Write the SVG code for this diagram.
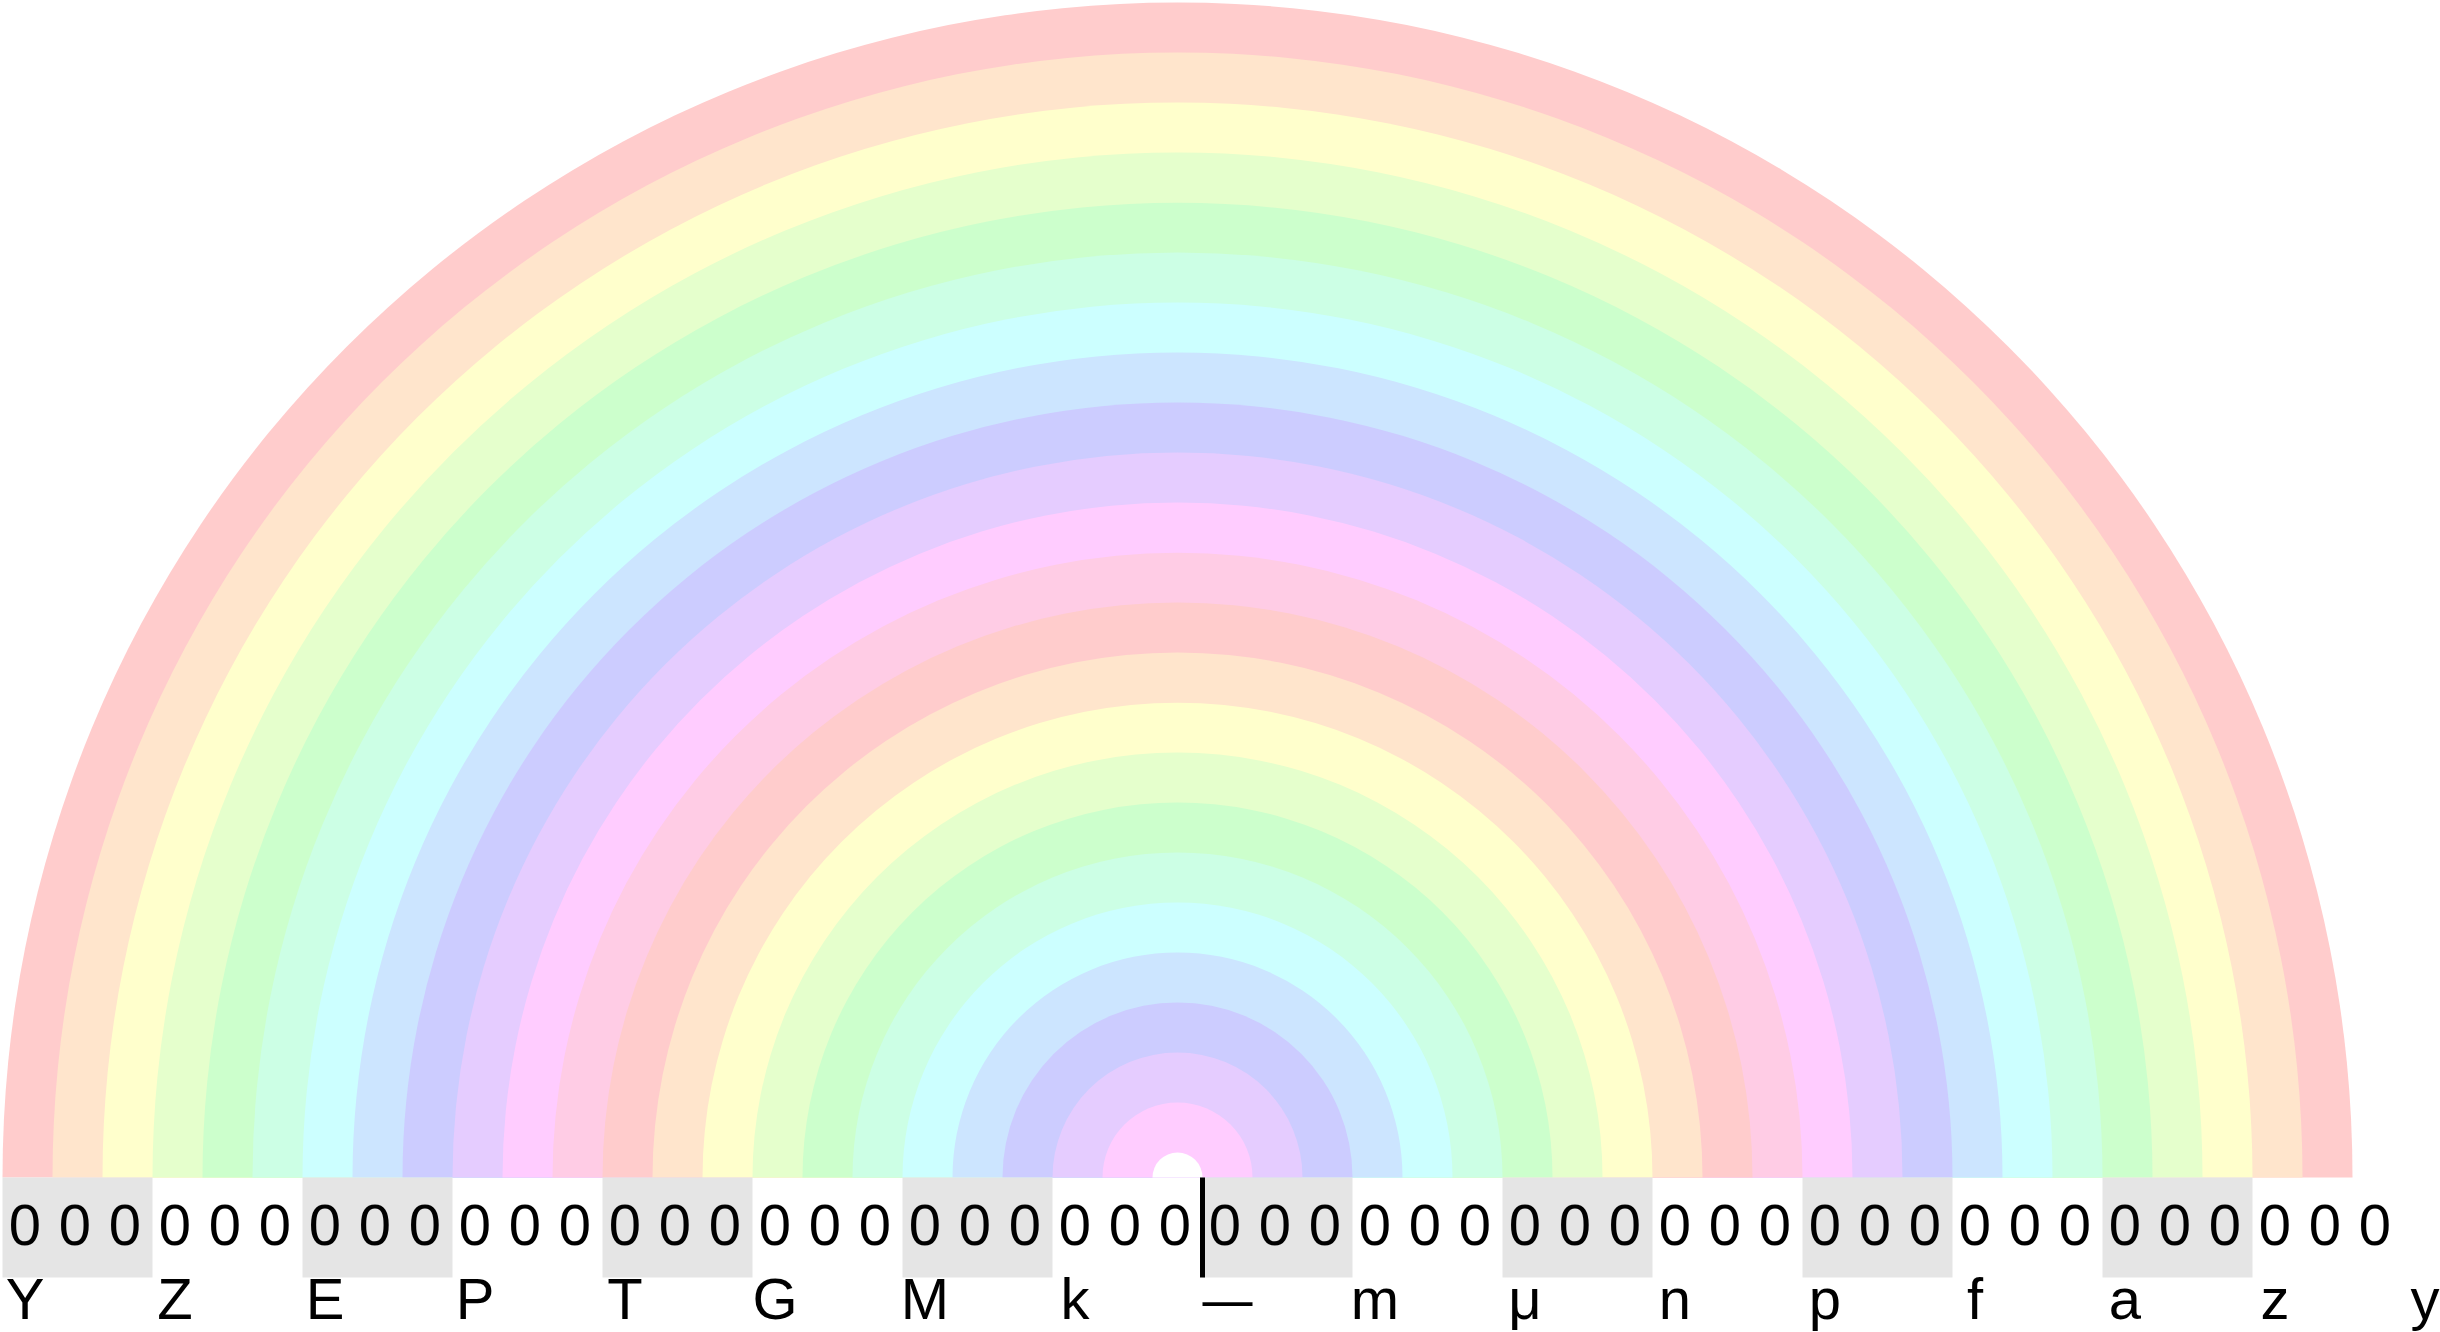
<svg xmlns="http://www.w3.org/2000/svg" width="2440" height="1332" viewBox="0 0 2440 1332">
<style>
.d{font-family:"Liberation Sans",Arial,sans-serif;font-size:58px;fill:#000;text-anchor:middle}
.g{fill:#e5e5e5}
</style>
<rect width="2440" height="1332" fill="#fff"/>
<g id="rainbow">
<path d="M2.5 1177.5A1175 1175 0 0 1 2352.5 1177.5Z" fill="#ffcccc"/>
<path d="M52.5 1177.5A1125 1125 0 0 1 2302.5 1177.5Z" fill="#ffe5cc"/>
<path d="M102.5 1177.5A1075 1075 0 0 1 2252.5 1177.5Z" fill="#ffffcc"/>
<path d="M152.5 1177.5A1025 1025 0 0 1 2202.5 1177.5Z" fill="#e5ffcc"/>
<path d="M202.5 1177.5A975 975 0 0 1 2152.5 1177.5Z" fill="#ccffcc"/>
<path d="M252.5 1177.5A925 925 0 0 1 2102.5 1177.5Z" fill="#ccffe5"/>
<path d="M302.5 1177.5A875 875 0 0 1 2052.5 1177.5Z" fill="#ccffff"/>
<path d="M352.5 1177.5A825 825 0 0 1 2002.5 1177.5Z" fill="#cce5ff"/>
<path d="M402.5 1177.5A775 775 0 0 1 1952.5 1177.5Z" fill="#ccccff"/>
<path d="M452.5 1177.5A725 725 0 0 1 1902.5 1177.5Z" fill="#e5ccff"/>
<path d="M502.5 1177.5A675 675 0 0 1 1852.5 1177.5Z" fill="#ffccff"/>
<path d="M552.5 1177.5A625 625 0 0 1 1802.5 1177.5Z" fill="#ffcce5"/>
<path d="M602.5 1177.5A575 575 0 0 1 1752.5 1177.5Z" fill="#ffcccc"/>
<path d="M652.5 1177.5A525 525 0 0 1 1702.5 1177.5Z" fill="#ffe5cc"/>
<path d="M702.5 1177.5A475 475 0 0 1 1652.5 1177.5Z" fill="#ffffcc"/>
<path d="M752.5 1177.5A425 425 0 0 1 1602.5 1177.5Z" fill="#e5ffcc"/>
<path d="M802.5 1177.5A375 375 0 0 1 1552.5 1177.5Z" fill="#ccffcc"/>
<path d="M852.5 1177.5A325 325 0 0 1 1502.5 1177.5Z" fill="#ccffe5"/>
<path d="M902.5 1177.5A275 275 0 0 1 1452.5 1177.5Z" fill="#ccffff"/>
<path d="M952.5 1177.5A225 225 0 0 1 1402.5 1177.5Z" fill="#cce5ff"/>
<path d="M1002.5 1177.5A175 175 0 0 1 1352.5 1177.5Z" fill="#ccccff"/>
<path d="M1052.5 1177.5A125 125 0 0 1 1302.5 1177.5Z" fill="#e5ccff"/>
<path d="M1102.5 1177.5A75 75 0 0 1 1252.5 1177.5Z" fill="#ffccff"/>
<path d="M1152.5 1177.5A25 25 0 0 1 1202.5 1177.5Z" fill="#ffffff"/>
</g>
<g id="shading">
<rect class="g" x="2.5" y="1177.5" width="150" height="100"/>
<rect class="g" x="302.5" y="1177.5" width="150" height="100"/>
<rect class="g" x="602.5" y="1177.5" width="150" height="100"/>
<rect class="g" x="902.5" y="1177.5" width="150" height="100"/>
<rect class="g" x="1202.5" y="1177.5" width="150" height="100"/>
<rect class="g" x="1502.5" y="1177.5" width="150" height="100"/>
<rect class="g" x="1802.5" y="1177.5" width="150" height="100"/>
<rect class="g" x="2102.5" y="1177.5" width="150" height="100"/>
</g>
<g id="digits" class="d">
<text x="25" y="1244.5">0</text><text x="75" y="1244.5">0</text><text x="125" y="1244.5">0</text>
<text x="175" y="1244.5">0</text><text x="225" y="1244.5">0</text><text x="275" y="1244.5">0</text>
<text x="325" y="1244.5">0</text><text x="375" y="1244.5">0</text><text x="425" y="1244.5">0</text>
<text x="475" y="1244.5">0</text><text x="525" y="1244.5">0</text><text x="575" y="1244.5">0</text>
<text x="625" y="1244.5">0</text><text x="675" y="1244.5">0</text><text x="725" y="1244.5">0</text>
<text x="775" y="1244.5">0</text><text x="825" y="1244.5">0</text><text x="875" y="1244.5">0</text>
<text x="925" y="1244.5">0</text><text x="975" y="1244.5">0</text><text x="1025" y="1244.5">0</text>
<text x="1075" y="1244.5">0</text><text x="1125" y="1244.5">0</text><text x="1175" y="1244.5">0</text>
<text x="1225" y="1244.5">0</text><text x="1275" y="1244.5">0</text><text x="1325" y="1244.5">0</text>
<text x="1375" y="1244.5">0</text><text x="1425" y="1244.5">0</text><text x="1475" y="1244.5">0</text>
<text x="1525" y="1244.5">0</text><text x="1575" y="1244.5">0</text><text x="1625" y="1244.5">0</text>
<text x="1675" y="1244.5">0</text><text x="1725" y="1244.5">0</text><text x="1775" y="1244.5">0</text>
<text x="1825" y="1244.5">0</text><text x="1875" y="1244.5">0</text><text x="1925" y="1244.5">0</text>
<text x="1975" y="1244.5">0</text><text x="2025" y="1244.5">0</text><text x="2075" y="1244.5">0</text>
<text x="2125" y="1244.5">0</text><text x="2175" y="1244.5">0</text><text x="2225" y="1244.5">0</text>
<text x="2275" y="1244.5">0</text><text x="2325" y="1244.5">0</text><text x="2375" y="1244.5">0</text>
</g>
<g id="decimal-point">
<line x1="1202.5" y1="1177.5" x2="1202.5" y2="1277.5" stroke="#000" stroke-width="5"/>
</g>
<g id="prefixes" class="d">
<text x="25" y="1319">Y</text>
<text x="175" y="1319">Z</text>
<text x="325" y="1319">E</text>
<text x="475" y="1319">P</text>
<text x="625" y="1319">T</text>
<text x="775" y="1319">G</text>
<text x="925" y="1319">M</text>
<text x="1075" y="1319">k</text>
<text x="1202.5" y="1319" style="text-anchor:start" textLength="50" lengthAdjust="spacingAndGlyphs">—</text>
<text x="1375" y="1319">m</text>
<text x="1525" y="1319">μ</text>
<text x="1675" y="1319">n</text>
<text x="1825" y="1319">p</text>
<text x="1975" y="1319">f</text>
<text x="2125" y="1319">a</text>
<text x="2275" y="1319">z</text>
<text x="2425" y="1319">y</text>
</g>
</svg>
